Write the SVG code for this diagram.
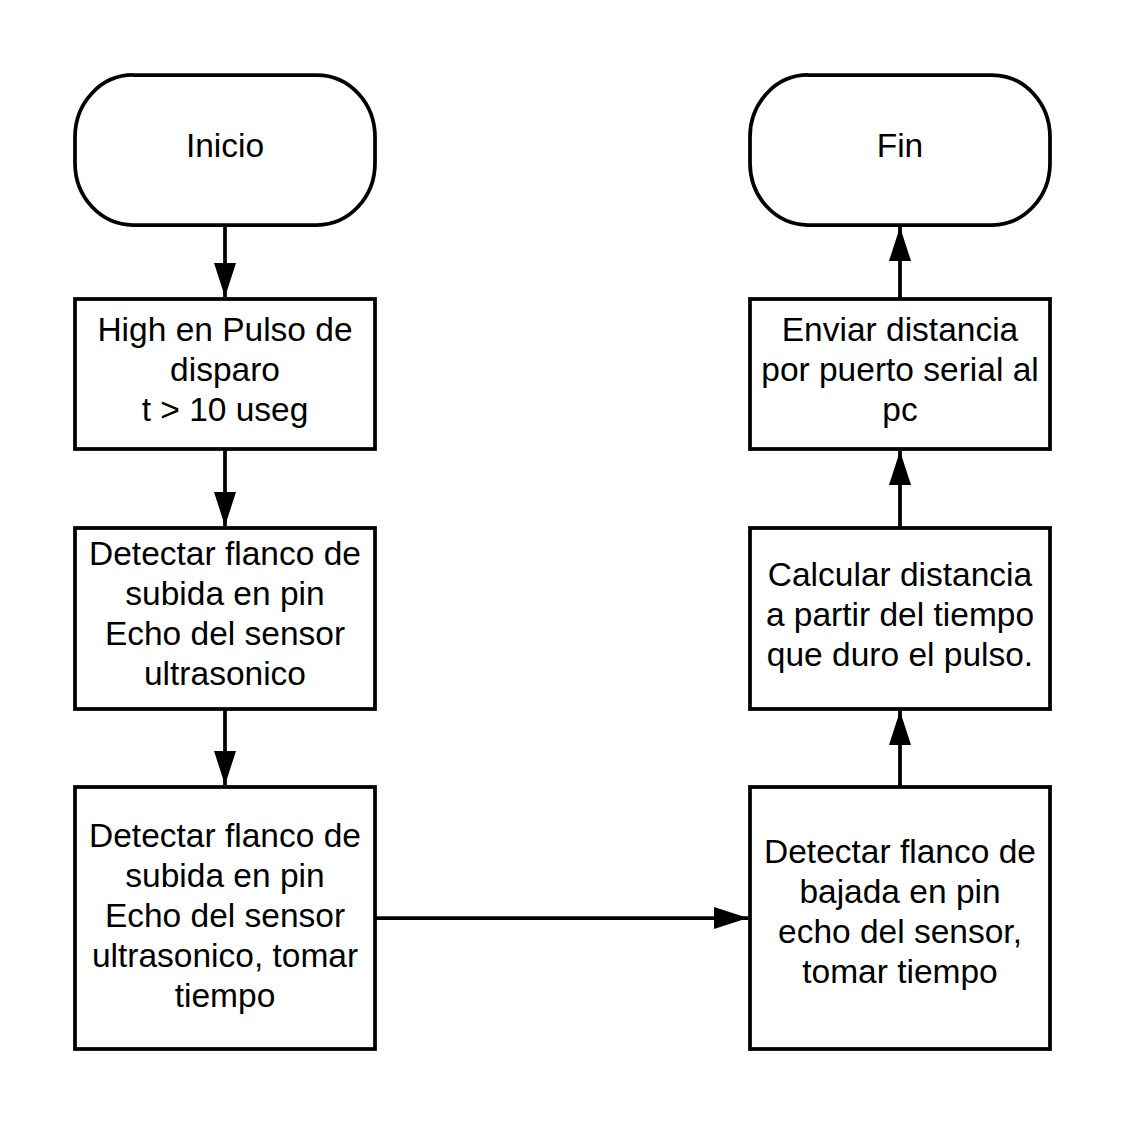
<svg xmlns="http://www.w3.org/2000/svg" width="1125" height="1125" viewBox="0 0 1125 1125">
<defs>
<style>
.n{fill:#fff;stroke:#000;stroke-width:3.75}
.t{font-family:"Liberation Sans",Arial,sans-serif;font-size:33.5px;fill:#000;text-anchor:middle}
.c{stroke:#000;stroke-width:3.75;fill:none}
</style>
<marker id="ah" markerUnits="userSpaceOnUse" markerWidth="36" markerHeight="24" refX="34" refY="11" orient="auto">
<path d="M0,0 L34,11 L0,22 Z" fill="#000"/>
</marker>
</defs>
<rect width="1125" height="1125" fill="#fff"/>
<g id="connectors">
<line class="c" x1="225" y1="225" x2="225" y2="297" marker-end="url(#ah)"/>
<line class="c" x1="225" y1="449" x2="225" y2="526" marker-end="url(#ah)"/>
<line class="c" x1="225" y1="709" x2="225" y2="785" marker-end="url(#ah)"/>
<line class="c" x1="375" y1="918" x2="748" y2="918" marker-end="url(#ah)"/>
<line class="c" x1="900" y1="787" x2="900" y2="711" marker-end="url(#ah)"/>
<line class="c" x1="900" y1="528" x2="900" y2="451" marker-end="url(#ah)"/>
<line class="c" x1="900" y1="299" x2="900" y2="227" marker-end="url(#ah)"/>
</g>
<g id="inicio">
<rect class="n" x="75" y="75" width="300" height="150" rx="58" ry="62"/>
<text class="t" x="225" y="157">Inicio</text>
</g>
<g id="high">
<rect class="n" x="75" y="299" width="300" height="150"/>
<text class="t" x="225" y="341">High en Pulso de</text>
<text class="t" x="225" y="381">disparo</text>
<text class="t" x="225" y="421">t &gt; 10 useg</text>
</g>
<g id="subida1">
<rect class="n" x="75" y="528" width="300" height="181"/>
<text class="t" x="225" y="565">Detectar flanco de</text>
<text class="t" x="225" y="605">subida en pin</text>
<text class="t" x="225" y="645">Echo del sensor</text>
<text class="t" x="225" y="685">ultrasonico</text>
</g>
<g id="subida2">
<rect class="n" x="75" y="787" width="300" height="262"/>
<text class="t" x="225" y="847">Detectar flanco de</text>
<text class="t" x="225" y="887">subida en pin</text>
<text class="t" x="225" y="927">Echo del sensor</text>
<text class="t" x="225" y="967">ultrasonico, tomar</text>
<text class="t" x="225" y="1007">tiempo</text>
</g>
<g id="bajada">
<rect class="n" x="750" y="787" width="300" height="262"/>
<text class="t" x="900" y="863">Detectar flanco de</text>
<text class="t" x="900" y="903">bajada en pin</text>
<text class="t" x="900" y="943">echo del sensor,</text>
<text class="t" x="900" y="983">tomar tiempo</text>
</g>
<g id="calcular">
<rect class="n" x="750" y="528" width="300" height="181"/>
<text class="t" x="900" y="586">Calcular distancia</text>
<text class="t" x="900" y="626">a partir del tiempo</text>
<text class="t" x="900" y="666">que duro el pulso.</text>
</g>
<g id="enviar">
<rect class="n" x="750" y="299" width="300" height="150"/>
<text class="t" x="900" y="341">Enviar distancia</text>
<text class="t" x="900" y="381">por puerto serial al</text>
<text class="t" x="900" y="421">pc</text>
</g>
<g id="fin">
<rect class="n" x="750" y="75" width="300" height="150" rx="58" ry="62"/>
<text class="t" x="900" y="157">Fin</text>
</g>
</svg>
